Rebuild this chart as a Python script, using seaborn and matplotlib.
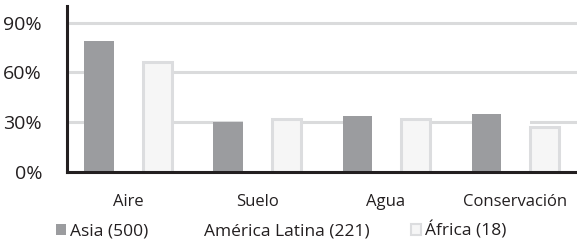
import numpy as np
import pandas as pd
import seaborn as sns
import matplotlib.pyplot as plt
from matplotlib.patches import Patch
from matplotlib.ticker import PercentFormatter

categories = ["Aire", "Suelo", "Agua", "Conservación"]
regions = ["Asia (500)", "América Latina (221)", "África (18)"]
asia = [79, 30, 34, 35]
latin_america = [71, 45, 42, 40]
africa = [66, 32, 32, 27]

fill = {"Asia (500)": "#9b9c9f", "América Latina (221)": "#ffffff", "África (18)": "#f6f6f6"}
edge = {"Asia (500)": "none", "América Latina (221)": "none", "África (18)": "#dcdddf"}

df = pd.DataFrame({
    "Categoria": categories * 3,
    "Region": np.repeat(regions, len(categories)),
    "Porcentaje": asia + latin_america + africa,
})

sns.set_theme(style="white")
plt.rcParams["font.family"] = ["Open Sans", "DejaVu Sans"]

fig = plt.figure(figsize=(5.77, 2.44), dpi=100)
ax = fig.add_axes([67 / 577, 72 / 244, 510 / 577, 166 / 244])

sns.barplot(data=df, x="Categoria", y="Porcentaje", hue="Region",
            order=categories, hue_order=regions, palette=fill,
            width=0.675, saturation=1, legend=False, ax=ax)

for container, region in zip(ax.containers, regions):
    for bar in container:
        bar.set_edgecolor(edge[region])
        bar.set_linewidth(2.2 if region == "África (18)" else 0)

ax.set_ylim(0, 100)
ax.set_xlim(-0.473, 3.48)
ax.set_yticks([0, 30, 60, 90])
ax.yaxis.set_major_formatter(PercentFormatter(decimals=0))
ax.grid(axis="y", color="#dadbdc", linewidth=2.2)
ax.set_axisbelow(True)
sns.despine(ax=ax)
for side in ["left", "bottom"]:
    ax.spines[side].set_color("#231f20")
    ax.spines[side].set_linewidth(2.2)
ax.tick_params(axis="y", length=0, pad=18, labelsize=14, labelcolor="#231f20")
ax.tick_params(axis="x", length=0, pad=16, labelsize=12, labelcolor="#231f20")
ax.set_xlabel("")
ax.set_ylabel("")

handles = [Patch(facecolor=fill[r], edgecolor=edge[r], linewidth=1.5) for r in regions]
fig.legend(handles, regions, loc="center", bbox_to_anchor=(0.487, 0.055), ncol=3,
           frameon=False, handlelength=0.6, handleheight=0.6, handletextpad=0.2,
           columnspacing=2.4, fontsize=12.5, labelcolor="#231f20")

fig.savefig("out.png", dpi=100)
